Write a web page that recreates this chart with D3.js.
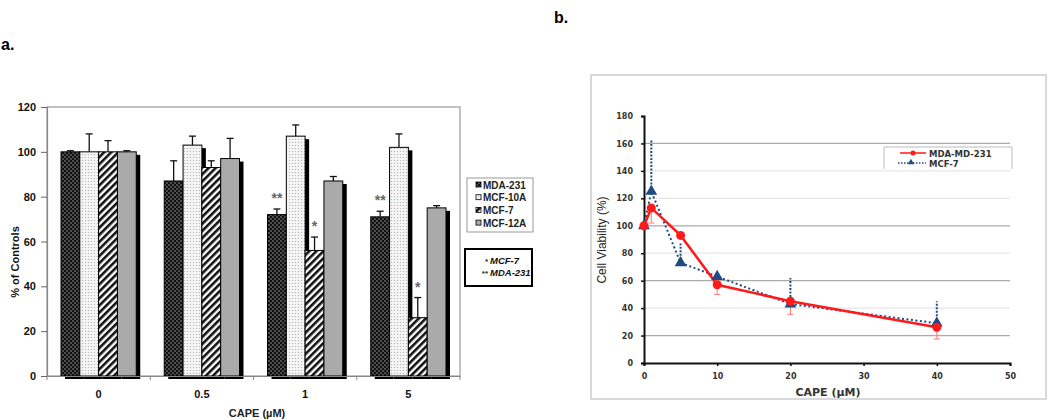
<!DOCTYPE html>
<html>
<head>
<meta charset="utf-8">
<script src="https://cdn.jsdelivr.net/npm/d3@7"></script>
<style>
  body { margin: 0; background: #fff; }
  svg { font-family: "Liberation Sans", Arial, sans-serif; }
</style>
</head>
<body>
<svg id="chart" width="1050" height="420"></svg>
<script>
// panel a data
const doses = ["0", "0.5", "1", "5"];
const lines = ["MDA-231", "MCF-10A", "MCF-7", "MCF-12A"];
const pctMDA231 = [100, 87, 72, 71];
const pctMCF10A = [100, 103, 107, 102];
const pctMCF7 = [100, 93, 56, 26];
const pctMCF12A = [100, 97, 87, 75];
const errMDA231 = [0.5, 9, 2.5, 2.5];
const errMCF10A = [8, 4, 5, 6];
const errMCF7 = [5, 3, 6, 9];
const errMCF12A = [0.5, 9, 2, 1];
// significance marks: [dose, line, label]
const starMarks = [["1", "MDA-231", "**"], ["5", "MDA-231", "**"], ["1", "MCF-7", "*"], ["5", "MCF-7", "*"]];
const yTicksA = [0, 20, 40, 60, 80, 100, 120];

// panel b data
const cape = [0, 1, 5, 10, 20, 40];
const viabMDA = [100, 113, 93, 57, 45, 26];
const viabMDAerr = [0, 11, 2, 7, 9.5, 8.5];
const viabMCF7 = [100, 125, 73, 63, 43, 29];
const viabMCF7err = [0, 38, 14, 2, 19, 16];
const xTicksB = [0, 10, 20, 30, 40, 50];
const yTicksB = [0, 20, 40, 60, 80, 100, 120, 140, 160, 180];

const svg = d3.select("#chart");
const defs = svg.append("defs");
const narrow = "Liberation Sans Narrow, Arial Narrow, sans-serif";

// fill patterns
const pHatch = defs.append("pattern").attr("id", "pHatch").attr("patternUnits", "userSpaceOnUse")
  .attr("width", 4).attr("height", 4);
pHatch.append("rect").attr("width", 4).attr("height", 4).attr("fill", "#111");
pHatch.append("circle").attr("cx", 1).attr("cy", 1).attr("r", 0.8).attr("fill", "#999");
pHatch.append("circle").attr("cx", 3).attr("cy", 3).attr("r", 0.8).attr("fill", "#999");

const pDots = defs.append("pattern").attr("id", "pDots").attr("patternUnits", "userSpaceOnUse")
  .attr("width", 3).attr("height", 3);
pDots.append("rect").attr("width", 3).attr("height", 3).attr("fill", "#f4f4f4");
pDots.append("circle").attr("cx", 1.5).attr("cy", 1.5).attr("r", 0.6).attr("fill", "#aaa");

const pStripe = defs.append("pattern").attr("id", "pStripe").attr("patternUnits", "userSpaceOnUse")
  .attr("width", 5).attr("height", 5).attr("patternTransform", "rotate(45)");
pStripe.append("rect").attr("width", 5).attr("height", 5).attr("fill", "#fff");
pStripe.append("rect").attr("width", 2.6).attr("height", 5).attr("fill", "#111");

const fills = {"MDA-231": "url(#pHatch)", "MCF-10A": "url(#pDots)", "MCF-7": "url(#pStripe)", "MCF-12A": "#aaaaaa"};

// panel labels
svg.append("text").attr("x", 1).attr("y", 50).attr("font-family", narrow)
  .attr("font-weight", "bold").attr("font-size", 16).text("a.");
svg.append("text").attr("x", 554).attr("y", 23).attr("font-family", narrow)
  .attr("font-weight", "bold").attr("font-size", 16).text("b.");

// ---------- panel a ----------
(function() {
  const left = 47, right = 460, top = 107, bottom = 376;
  const vals = {"MDA-231": pctMDA231, "MCF-10A": pctMCF10A, "MCF-7": pctMCF7, "MCF-12A": pctMCF12A};
  const errs = {"MDA-231": errMDA231, "MCF-10A": errMCF10A, "MCF-7": errMCF7, "MCF-12A": errMCF12A};

  let x = d3.scaleBand().domain(doses).range([left, right]).paddingInner(0).paddingOuter(0);
  let xs = d3.scaleBand().domain(lines).range([14, x.bandwidth() - 14]).padding(0);
  let y = d3.scaleLinear().domain([0, 120]).range([bottom, top]);

  // frame
  svg.append("rect").attr("x", left).attr("y", top).attr("width", right - left).attr("height", bottom - top)
    .attr("fill", "none").attr("stroke", "#999").attr("stroke-width", 1.2);

  const g = svg.append("g");
  const data = [];
  doses.forEach((d, i) => lines.forEach(l => data.push({dose: d, line: l, v: vals[l][i], e: errs[l][i]})));

  const bw = xs.bandwidth();
  data.forEach(d => {
    const bx = x(d.dose) + xs(d.line);
    // error bar
    g.append("line").attr("x1", bx + bw / 2).attr("x2", bx + bw / 2)
      .attr("y1", y(d.v)).attr("y2", y(d.v + d.e)).attr("stroke", "#111").attr("stroke-width", 1.3);
    g.append("line").attr("x1", bx + bw / 2 - 3.5).attr("x2", bx + bw / 2 + 3.5)
      .attr("y1", y(d.v + d.e)).attr("y2", y(d.v + d.e)).attr("stroke", "#111").attr("stroke-width", 1.3);
    // shadow then bar
    g.append("rect").attr("x", bx + 4).attr("y", y(d.v) + 3).attr("width", bw).attr("height", bottom - y(d.v))
      .attr("fill", "#000");
    g.append("rect").attr("x", bx).attr("y", y(d.v)).attr("width", bw).attr("height", bottom - y(d.v))
      .attr("fill", fills[d.line]).attr("stroke", "#000").attr("stroke-width", 1);
  });

  // baseline
  const ax = svg.append("g").attr("transform", `translate(0,${bottom})`)
    .call(d3.axisBottom(x).tickSize(0).tickPadding(14));
  ax.select(".domain").attr("stroke", "#888").attr("stroke-width", 1.2);
  ax.selectAll("text").attr("font-weight", "bold").attr("font-size", 11).attr("fill", "#111");
  doses.concat(["end"]).forEach((d, i) => {
    const px = left + i * x.bandwidth();
    svg.append("line").attr("x1", px).attr("x2", px).attr("y1", bottom).attr("y2", bottom + 4)
      .attr("stroke", "#888");
  });

  const ay = svg.append("g").attr("transform", `translate(${left},0)`)
    .call(d3.axisLeft(y).tickValues(yTicksA).tickSize(6).tickPadding(5));
  ay.select(".domain").attr("stroke", "#888").attr("stroke-width", 1.2);
  ay.selectAll(".tick line").attr("stroke", "#666");
  ay.selectAll("text").attr("font-weight", "bold").attr("font-size", 11).attr("fill", "#111");

  svg.append("text").attr("x", 257).attr("y", 417).attr("text-anchor", "middle")
    .attr("font-weight", "bold").attr("font-size", 11).attr("fill", "#222").text("CAPE (µM)");
  svg.append("text").attr("transform", "rotate(-90)").attr("x", -262).attr("y", 19).attr("text-anchor", "middle")
    .attr("font-weight", "bold").attr("font-size", 11).attr("fill", "#111").text("% of Controls");

  // significance stars
  starMarks.forEach(([d, l, s]) => {
    const i = doses.indexOf(d);
    const v = vals[l][i] + errs[l][i];
    svg.append("text").attr("x", x(d) + xs(l) + bw / 2).attr("y", y(v) - 6).attr("text-anchor", "middle")
      .attr("font-weight", "bold").attr("font-size", 14).attr("fill", "#666").text(s);
  });

  // legend
  svg.append("rect").attr("x", 467).attr("y", 178).attr("width", 66).attr("height", 54)
    .attr("fill", "#fff").attr("stroke", "#999");
  lines.forEach((l, i) => {
    const ly = 185 + i * 12.7;
    svg.append("rect").attr("x", 476).attr("y", ly - 3).attr("width", 5).attr("height", 5)
      .attr("fill", fills[l]).attr("stroke", "#000").attr("stroke-width", 0.8);
    svg.append("text").attr("x", 483).attr("y", ly + 3.5).attr("font-family", narrow)
      .attr("font-weight", "bold").attr("font-size", 10).attr("fill", "#222").text(l);
  });
  svg.append("rect").attr("x", 465).attr("y", 249).attr("width", 67).attr("height", 37)
    .attr("fill", "#fff").attr("stroke", "#000").attr("stroke-width", 2);
  [["*", "MCF-7"], ["**", "MDA-231"]].forEach(([s, l], i) => {
    const ly = 264 + i * 12;
    svg.append("text").attr("x", 488).attr("y", ly).attr("text-anchor", "end")
      .attr("font-weight", "bold").attr("font-size", 8).attr("fill", "#222").text(s);
    svg.append("text").attr("x", 490).attr("y", ly).attr("font-family", narrow)
      .attr("font-weight", "bold").attr("font-style", "italic").attr("font-size", 9.5).attr("fill", "#111").text(l);
  });
})();

// ---------- panel b ----------
(function() {
  const wide = "DejaVu Sans, Verdana, sans-serif";
  svg.append("rect").attr("x", 591).attr("y", 75).attr("width", 455).attr("height", 324)
    .attr("fill", "#fff").attr("stroke", "#ccc").attr("stroke-width", 1.5);

  let x = d3.scaleLinear().domain([0, 50]).range([644, 1010]);
  let y = d3.scaleLinear().domain([0, 180]).range([363, 116]);

  // gridlines
  const darkGrid = [20, 60, 100, 160];
  svg.append("g").selectAll("line").data(yTicksB.filter(t => t > 0 && t < 180)).enter().append("line")
    .attr("x1", x(0)).attr("x2", x(50)).attr("y1", d => y(d)).attr("y2", d => y(d))
    .attr("stroke", d => darkGrid.includes(d) ? "#aaa" : "#e6e6e6").attr("stroke-width", 1.2);

  const ax = svg.append("g").attr("transform", `translate(0,${y(0)})`)
    .call(d3.axisBottom(x).tickValues(xTicksB).tickSize(3).tickPadding(7));
  ax.select(".domain").attr("stroke", "#111").attr("stroke-width", 2);
  ax.selectAll(".tick line").attr("stroke", "#111").attr("stroke-width", 1.5);
  ax.selectAll("text").attr("font-family", wide).attr("font-weight", "bold").attr("font-size", 8).attr("fill", "#333");

  const ay = svg.append("g").attr("transform", `translate(${x(0)},0)`)
    .call(d3.axisLeft(y).tickValues(yTicksB).tickSize(3).tickPadding(8));
  ay.select(".domain").attr("stroke", "#111").attr("stroke-width", 2);
  ay.selectAll(".tick line").attr("stroke", "#111").attr("stroke-width", 1.5);
  ay.selectAll("text").attr("font-family", wide).attr("font-weight", "bold").attr("font-size", 8).attr("fill", "#333");

  svg.append("text").attr("x", 828).attr("y", 396).attr("text-anchor", "middle").attr("font-family", wide)
    .attr("font-weight", "bold").attr("font-size", 11).attr("fill", "#333").text("CAPE (µM)");
  svg.append("text").attr("transform", "rotate(-90)").attr("x", -240).attr("y", 606).attr("text-anchor", "middle")
    .attr("font-family", narrow).attr("font-size", 12).attr("fill", "#222").text("Cell Viability (%)");

  const blue = "#1f4a82", red = "#ff1a1a";
  const mda = cape.map((c, i) => ({c, v: viabMDA[i], e: viabMDAerr[i]}));
  const mcf = cape.map((c, i) => ({c, v: viabMCF7[i], e: viabMCF7err[i]}));

  // error bars: red downward, blue upward
  svg.append("g").selectAll("line").data(mda.filter(d => d.e > 0)).enter().append("line")
    .attr("x1", d => x(d.c)).attr("x2", d => x(d.c)).attr("y1", d => y(d.v)).attr("y2", d => y(d.v - d.e))
    .attr("stroke", "#f77").attr("stroke-width", 1);
  svg.append("g").selectAll("line").data(mda.filter(d => d.e > 0)).enter().append("line")
    .attr("x1", d => x(d.c) - 3).attr("x2", d => x(d.c) + 3).attr("y1", d => y(d.v - d.e)).attr("y2", d => y(d.v - d.e))
    .attr("stroke", "#f77").attr("stroke-width", 1);
  svg.append("g").selectAll("line").data(mcf.filter(d => d.e > 0)).enter().append("line")
    .attr("x1", d => x(d.c)).attr("x2", d => x(d.c)).attr("y1", d => y(d.v)).attr("y2", d => y(d.v + d.e))
    .attr("stroke", blue).attr("stroke-width", 2).attr("stroke-dasharray", "2,1.5");

  const line = d3.line().x(d => x(d.c)).y(d => y(d.v));
  svg.append("path").datum(mcf).attr("d", line).attr("fill", "none")
    .attr("stroke", blue).attr("stroke-width", 2).attr("stroke-dasharray", "2,2.5");
  svg.append("path").datum(mda).attr("d", line).attr("fill", "none")
    .attr("stroke", red).attr("stroke-width", 2.5);

  const tri = d3.symbol().type(d3.symbolTriangle).size(60);
  svg.append("g").selectAll("path").data(mcf).enter().append("path")
    .attr("d", tri).attr("transform", d => `translate(${x(d.c)},${y(d.v)})`).attr("fill", blue);
  svg.append("g").selectAll("circle").data(mda).enter().append("circle")
    .attr("cx", d => x(d.c)).attr("cy", d => y(d.v)).attr("r", 4.5).attr("fill", red);

  // legend (no bottom border)
  svg.append("rect").attr("x", 884).attr("y", 147).attr("width", 128).attr("height", 22).attr("fill", "#fff");
  svg.append("path").attr("d", "M884,169V147H1012V169").attr("fill", "none").attr("stroke", "#bbb");
  svg.append("line").attr("x1", 900).attr("x2", 926).attr("y1", 153).attr("y2", 153).attr("stroke", red).attr("stroke-width", 1.5);
  svg.append("circle").attr("cx", 913).attr("cy", 153).attr("r", 2.5).attr("fill", red);
  svg.append("text").attr("x", 929).attr("y", 156.5).attr("font-family", wide).attr("font-weight", "bold")
    .attr("font-size", 8.5).attr("fill", "#333").text("MDA-MD-231");
  svg.append("line").attr("x1", 898).attr("x2", 926).attr("y1", 163).attr("y2", 163).attr("stroke", blue)
    .attr("stroke-width", 1.5).attr("stroke-dasharray", "1.5,1.5");
  svg.append("path").attr("d", d3.symbol().type(d3.symbolTriangle).size(18)).attr("transform", "translate(911,162.5)").attr("fill", blue);
  svg.append("text").attr("x", 929).attr("y", 166.5).attr("font-family", wide).attr("font-weight", "bold")
    .attr("font-size", 8.5).attr("fill", "#333").text("MCF-7");
})();
</script>
</body>
</html>
